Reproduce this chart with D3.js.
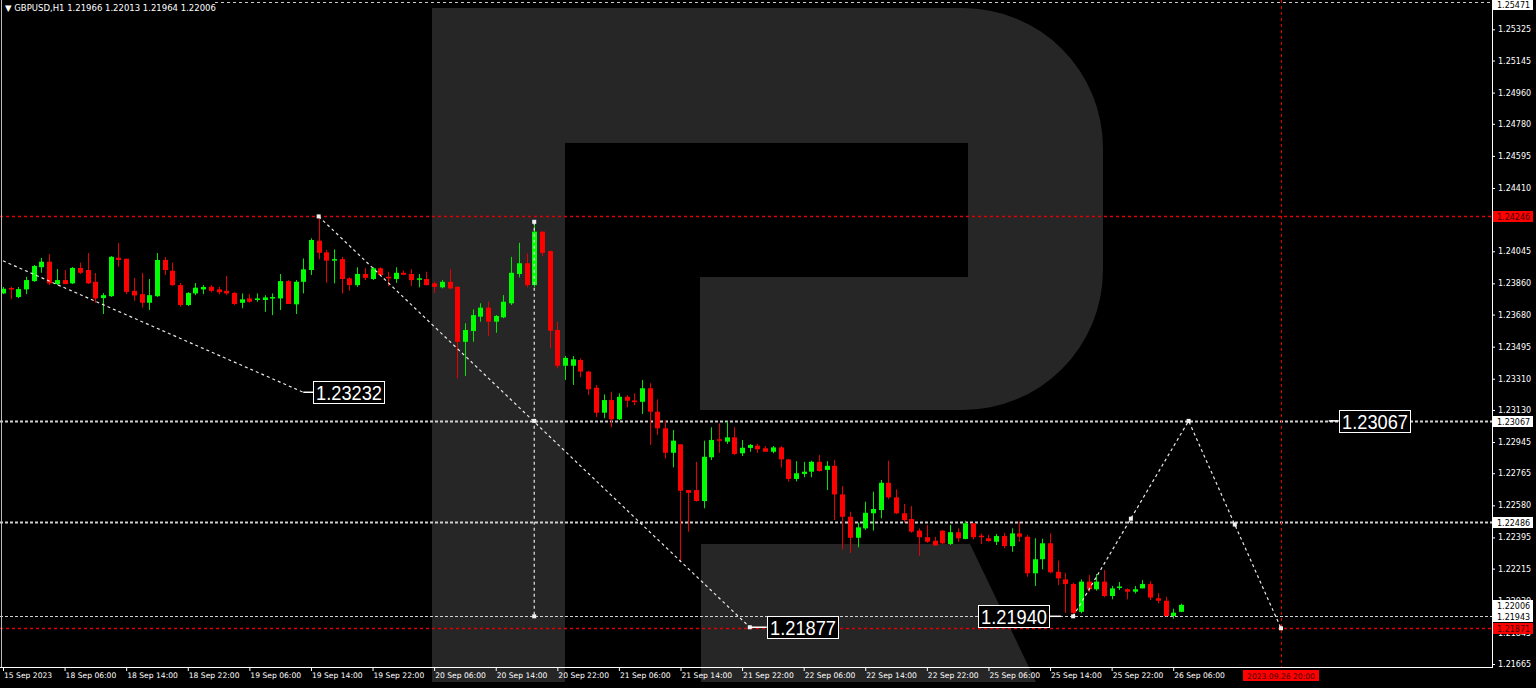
<!DOCTYPE html>
<html><head><meta charset="utf-8">
<script src="https://cdn.jsdelivr.net/npm/d3@7"></script>
<style>html,body{margin:0;padding:0;background:#000;overflow:hidden}</style>
</head><body><svg id="c" width="1536" height="688"></svg>
<script>
// ---- DATA (GBPUSD H1, from 15 Sep 22:00 to 26 Sep 07:00) ----
const opens=[1.23802,1.23833,1.23781,1.23825,1.23873,1.23953,1.23985,1.23856,1.23879,1.23860,
1.23949,1.23937,1.23869,1.23775,1.23786,1.24008,1.24002,1.23817,1.23798,1.23748,
1.23786,1.23995,1.23933,1.23850,1.23735,1.23802,1.23825,1.23840,1.23825,1.23817,
1.23805,1.23748,1.23773,1.23764,1.23764,1.23777,1.23773,1.23873,1.23739,1.23869,
1.23937,1.24106,1.24039,1.23991,1.24000,1.23889,1.23850,1.23914,1.23885,1.23947,
1.23898,1.23885,1.23921,1.23914,1.23883,1.23885,1.23860,1.23837,1.23869,1.23840,
1.23523,1.23585,1.23668,1.23720,1.23639,1.23664,1.23745,1.23914,1.23976,1.23850,
1.24158,1.24046,1.23591,1.23385,1.23385,1.23418,1.23351,1.23258,1.23114,1.23187,
1.23076,1.23206,1.23185,1.23177,1.23255,1.23120,1.23024,1.22883,1.22932,1.22668,
1.22668,1.22605,1.22857,1.22961,1.22947,1.22972,1.22880,1.22911,1.22924,1.22909,
1.22889,1.22914,1.22845,1.22732,1.22761,1.22774,1.22831,1.22784,1.22808,1.22643,
1.22514,1.22393,1.22447,1.22534,1.22553,1.22710,1.22626,1.22534,1.22501,1.22434,
1.22396,1.22376,1.22434,1.22357,1.22425,1.22386,1.22476,1.22405,1.22390,1.22370,
1.22403,1.22345,1.22418,1.22399,1.22188,1.22269,1.22361,1.22197,1.22153,1.22126,
1.21966,1.22140,1.22096,1.22140,1.22057,1.22104,1.22096,1.22082,1.22101,1.22126,
1.22044,1.22030,1.21942,1.21966];
const highs=[1.23839,1.23840,1.23839,1.23898,1.23966,1.24007,1.24029,1.23943,1.23937,1.23954,
1.23979,1.24035,1.23920,1.23804,1.24017,1.24093,1.24002,1.23891,1.23920,1.23885,
1.24035,1.24012,1.23979,1.23862,1.23809,1.23862,1.23850,1.23850,1.23840,1.23902,
1.23811,1.23802,1.23798,1.23802,1.23792,1.23802,1.23914,1.23879,1.23879,1.24004,
1.24120,1.24246,1.24052,1.24056,1.24013,1.23895,1.23953,1.23947,1.23953,1.23953,
1.23927,1.23953,1.23933,1.23941,1.23914,1.23927,1.23869,1.23879,1.23941,1.23844,
1.23630,1.23710,1.23745,1.23754,1.23677,1.23792,1.24013,1.24094,1.24033,1.24215,
1.24160,1.24050,1.23639,1.23441,1.23441,1.23428,1.23355,1.23274,1.23220,1.23235,
1.23226,1.23216,1.23226,1.23303,1.23284,1.23191,1.23072,1.23014,1.22932,1.22668,
1.22831,1.22953,1.23030,1.23053,1.23062,1.23030,1.22957,1.22934,1.22934,1.22922,
1.22922,1.22922,1.22845,1.22835,1.22831,1.22837,1.22870,1.22835,1.22841,1.22691,
1.22543,1.22480,1.22601,1.22659,1.22726,1.22837,1.22672,1.22588,1.22576,1.22447,
1.22467,1.22399,1.22438,1.22467,1.22447,1.22491,1.22476,1.22418,1.22409,1.22415,
1.22422,1.22447,1.22486,1.22409,1.22390,1.22387,1.22418,1.22261,1.22191,1.22134,
1.22153,1.22178,1.22184,1.22207,1.22115,1.22138,1.22101,1.22115,1.22149,1.22143,
1.22073,1.22053,1.21984,1.22013];
const lows=[1.23798,1.23769,1.23775,1.23798,1.23869,1.23921,1.23850,1.23850,1.23856,1.23856,
1.23914,1.23856,1.23748,1.23683,1.23782,1.23956,1.23798,1.23760,1.23720,1.23706,
1.23782,1.23908,1.23846,1.23725,1.23729,1.23792,1.23798,1.23809,1.23798,1.23792,
1.23735,1.23716,1.23748,1.23754,1.23696,1.23677,1.23706,1.23741,1.23683,1.23802,
1.23908,1.23999,1.23863,1.23860,1.23802,1.23817,1.23840,1.23879,1.23879,1.23902,
1.23844,1.23863,1.23908,1.23844,1.23837,1.23848,1.23805,1.23831,1.23825,1.23313,
1.23326,1.23523,1.23639,1.23556,1.23575,1.23659,1.23735,1.23894,1.23837,1.23840,
1.24017,1.23486,1.23370,1.23303,1.23274,1.23319,1.23216,1.23088,1.23082,1.23030,
1.23072,1.23145,1.23158,1.23107,1.22928,1.22986,1.22851,1.22799,1.22255,1.22428,
1.22601,1.22563,1.22841,1.22883,1.22934,1.22870,1.22864,1.22889,1.22883,1.22889,
1.22880,1.22799,1.22716,1.22718,1.22742,1.22742,1.22774,1.22668,1.22495,1.22326,
1.22306,1.22338,1.22438,1.22434,1.22505,1.22615,1.22530,1.22480,1.22422,1.22289,
1.22364,1.22345,1.22357,1.22351,1.22370,1.22384,1.22384,1.22357,1.22370,1.22351,
1.22332,1.22312,1.22370,1.22168,1.22115,1.22211,1.22188,1.22120,1.21960,1.21940,
1.21957,1.22082,1.22088,1.22050,1.22038,1.22092,1.22038,1.22072,1.22101,1.22034,
1.22015,1.21939,1.21926,1.21964];
const closes=[1.23829,1.23827,1.23827,1.23879,1.23960,1.23985,1.23860,1.23879,1.23856,1.23949,
1.23921,1.23860,1.23773,1.23792,1.24013,1.23995,1.23811,1.23790,1.23748,1.23792,
1.23995,1.23937,1.23850,1.23735,1.23805,1.23835,1.23839,1.23817,1.23809,1.23802,
1.23741,1.23768,1.23754,1.23773,1.23779,1.23781,1.23873,1.23741,1.23869,1.23941,
1.24110,1.24036,1.23991,1.24000,1.23885,1.23850,1.23914,1.23892,1.23947,1.23908,
1.23889,1.23921,1.23910,1.23879,1.23889,1.23850,1.23840,1.23869,1.23831,1.23523,
1.23591,1.23677,1.23720,1.23639,1.23672,1.23754,1.23921,1.23976,1.23850,1.24158,
1.24036,1.23587,1.23385,1.23430,1.23422,1.23351,1.23249,1.23114,1.23187,1.23076,
1.23206,1.23183,1.23175,1.23255,1.23120,1.23024,1.22883,1.22953,1.22664,1.22652,
1.22605,1.22860,1.22957,1.22953,1.22972,1.22876,1.22912,1.22928,1.22903,1.22889,
1.22914,1.22845,1.22732,1.22765,1.22774,1.22831,1.22778,1.22808,1.22643,1.22514,
1.22393,1.22453,1.22537,1.22559,1.22710,1.22626,1.22534,1.22495,1.22428,1.22396,
1.22370,1.22349,1.22361,1.22425,1.22390,1.22476,1.22396,1.22396,1.22374,1.22403,
1.22345,1.22418,1.22399,1.22188,1.22269,1.22361,1.22194,1.22159,1.22126,1.21960,
1.22140,1.22096,1.22140,1.22057,1.22101,1.22112,1.22082,1.22096,1.22126,1.22048,
1.22030,1.21942,1.21961,1.22006];

const timeLabels=["15 Sep 2023","18 Sep 06:00","18 Sep 14:00","18 Sep 22:00","19 Sep 06:00","19 Sep 14:00",
"19 Sep 22:00","20 Sep 06:00","20 Sep 14:00","20 Sep 22:00","21 Sep 06:00","21 Sep 14:00","21 Sep 22:00",
"22 Sep 06:00","22 Sep 14:00","22 Sep 22:00","25 Sep 06:00","25 Sep 14:00","25 Sep 22:00","26 Sep 06:00"];
const priceTicks=[1.25325,1.25145,1.24960,1.24780,1.24595,1.24410,1.24230,1.24045,1.23860,1.23680,1.23495,
1.23310,1.23130,1.22945,1.22765,1.22580,1.22395,1.22215,1.22030,1.21845,1.21665];
const whiteLevels=[1.23067,1.22486,1.21943];
const redLevels=[1.24246,1.21871];
const whiteAxisTags=[1.25471,1.23067,1.22486,1.22006,1.21943];
const redAxisTags=[1.24246,1.21871];
const trendLine=[[0,1.23990],[39,1.23232]];
const waveDown=[[41,1.24246],[97,1.21877]];
const waveVertical=[[69,1.24215],[69,1.23067],[69,1.21940]];
const forecast=[[139,1.21940],[154,1.23067],[166,1.21871]];
const forecastMid=[[146.5,1.22503],[160,1.22469]];
const callouts=[
  {i:39,p:1.23232,text:"1.23232",side:"right",gap:10},
  {i:97,p:1.21877,text:"1.21877",side:"right",gap:17},
  {i:139,p:1.21940,text:"1.21940",side:"left",gap:24},
  {i:172.2,p:1.23067,text:"1.23067",side:"right",gap:10}];
const header="GBPUSD,H1  1.21966 1.22013 1.21964 1.22006";
const cursorLabel="2023.09.26 20:00", cursorIndex=166;

// ---- CHART ----
const W=1536,H=688,plotR=1492,plotB=667;
const svg=d3.select("#c");
const x=d3.scaleLinear().domain([0,166]).range([3,1281]);
const y=d3.scaleLinear().domain([1.21665,1.25471]).range([664,4]);
const xr=i=>Math.round(x(i));

svg.append("rect").attr("width",W).attr("height",H).attr("fill","#000");

// watermark logo
const wm=svg.append("g").attr("fill","#262626");
wm.append("path").attr("d","M432,8 H963 A140,140 0 0 1 1103,148 V270 A140,140 0 0 1 963,410 H700 V277 H968 V143 H565 V682 H432 Z");
wm.append("path").attr("d","M701,544 H970 L1036,682 H701 Z");

svg.append("defs").append("clipPath").attr("id","pc").append("rect").attr("x",0).attr("y",0).attr("width",plotR).attr("height",plotB);
const g=svg.append("g").attr("clip-path","url(#pc)");

// top dashed line
g.append("line").attr("x1",215).attr("x2",plotR).attr("y1",Math.round(y(1.25471))-1.5).attr("y2",Math.round(y(1.25471))-1.5)
 .attr("stroke","#c8c8c8").attr("stroke-dasharray","3,3");

// level lines
g.selectAll(".wl").data(whiteLevels).join("line")
 .attr("x1",0).attr("x2",plotR).attr("y1",d=>Math.round(y(d))+0.5).attr("y2",d=>Math.round(y(d))+0.5)
 .attr("stroke","#d0d0d0").attr("stroke-width",(d,k)=>k<2?2:1).attr("stroke-dasharray","3,2");
g.selectAll(".rl").data(redLevels).join("line")
 .attr("x1",0).attr("x2",plotR).attr("y1",d=>Math.round(y(d))+0.5).attr("y2",d=>Math.round(y(d))+0.5)
 .attr("stroke","#e00000").attr("stroke-width",1.5).attr("stroke-dasharray","3,3");
// cursor vertical
g.append("line").attr("x1",xr(cursorIndex)+0.5).attr("x2",xr(cursorIndex)+0.5).attr("y1",0).attr("y2",plotB)
 .attr("stroke","#e00000").attr("stroke-dasharray","3,3");

// candles
const idx=d3.range(opens.length);
const cg=g.append("g");
cg.selectAll(".w").data(idx).join("line")
 .attr("x1",i=>xr(i)+0.5).attr("x2",i=>xr(i)+0.5)
 .attr("y1",i=>y(highs[i])).attr("y2",i=>y(lows[i]))
 .attr("stroke",i=>closes[i]>=opens[i]?"#00e600":"#e60000");
cg.selectAll(".b").data(idx).join("rect")
 .attr("x",i=>xr(i)-2).attr("width",5)
 .attr("y",i=>y(Math.max(opens[i],closes[i])))
 .attr("height",i=>Math.max(1.5,Math.abs(y(opens[i])-y(closes[i]))))
 .attr("fill",i=>closes[i]>=opens[i]?"#00ff00":"#ff0000");

// wave lines
const ln=d3.line().x(d=>x(d[0])).y(d=>y(d[1]));
[trendLine,waveDown,forecast,waveVertical].forEach(pts=>{
  g.append("path").attr("d",ln(pts)).attr("fill","none").attr("stroke","#e8e8e8").attr("stroke-width",1.2).attr("stroke-dasharray","3,3");
});
const markers=[waveDown[0],waveDown[1],waveVertical[0],waveVertical[1],waveVertical[2],...forecast,...forecastMid];
g.selectAll(".mk").data(markers).join("rect")
 .attr("x",d=>x(d[0])-2).attr("y",d=>y(d[1])-2).attr("width",4).attr("height",4).attr("fill","#f0f0f0");

// callouts
callouts.forEach(c=>{
  const px=x(c.i), py=y(c.p), bw=71, bh=22;
  const bx=c.side==="right"?px+c.gap:px-c.gap-bw;
  g.append("line").attr("x1",c.side==="right"?px:bx+bw).attr("x2",c.side==="right"?bx:px-12)
   .attr("y1",py).attr("y2",py).attr("stroke","#fff").attr("stroke-width",1.5);
  g.append("rect").attr("x",Math.round(bx)+0.5).attr("y",Math.round(py-bh/2)+0.5).attr("width",bw).attr("height",bh)
   .attr("fill","#000").attr("stroke","#fff").attr("stroke-width",1);
  g.append("text").attr("x",Math.round(bx)+3).attr("y",Math.round(py-bh/2)+18.5)
   .attr("fill","#fff").attr("font-family","Liberation Sans, Arial, sans-serif").attr("font-size",21)
   .attr("textLength",66).attr("lengthAdjust","spacingAndGlyphs").text(c.text);
});

// frame lines
svg.append("line").attr("x1",plotR+0.5).attr("x2",plotR+0.5).attr("y1",0).attr("y2",plotB+1).attr("stroke","#fff");
svg.append("line").attr("x1",0).attr("x2",plotR+1).attr("y1",plotB+0.5).attr("y2",plotB+0.5).attr("stroke","#fff");
svg.append("line").attr("x1",1.5).attr("x2",1.5).attr("y1",0).attr("y2",plotB).attr("stroke","#bbb");

// price axis
const yAx=svg.append("g").attr("transform",`translate(${plotR},0)`)
 .call(d3.axisRight(y).tickValues(priceTicks).tickFormat(d3.format(".5f")).tickSize(3).tickSizeOuter(0).tickPadding(3));
yAx.select(".domain").remove();
yAx.selectAll("line").attr("stroke","#fff");
yAx.selectAll("text").attr("fill","#fff").attr("font-family","DejaVu Sans, sans-serif").attr("font-size",8);

// time axis
const tIdx=timeLabels.map((d,k)=>k*8);
const xAx=svg.append("g").attr("transform",`translate(0,${plotB})`)
 .call(d3.axisBottom(x).tickValues(tIdx).tickFormat((d,k)=>timeLabels[k]).tickSize(4).tickSizeOuter(0));
xAx.select(".domain").remove();
xAx.selectAll("line").attr("stroke","#fff");
xAx.selectAll("text").attr("fill","#fff").attr("font-family","DejaVu Sans, sans-serif").attr("font-size",7.6)
 .attr("text-anchor","start").attr("dx",0.5).attr("y",5.5);

// axis tags
function tag(p,bg,fg){
  const yy=Math.round(y(p));
  const t=svg.append("g");
  t.append("rect").attr("x",plotR+1).attr("y",yy-5).attr("width",40).attr("height",11).attr("fill",bg);
  t.append("text").attr("x",plotR+5).attr("y",yy+3.5).attr("fill",fg).attr("font-family","DejaVu Sans, sans-serif").attr("font-size",8).text(d3.format(".5f")(p));
}
whiteAxisTags.forEach(p=>tag(p,"#fff","#000"));
redAxisTags.forEach(p=>tag(p,"#ff0000","#400000"));
// cursor time tag
const cx=x(cursorIndex);
svg.append("rect").attr("x",cx-38).attr("y",670).attr("width",76).attr("height",11).attr("fill","#ff0000");
svg.append("text").attr("x",cx).attr("y",679).attr("text-anchor","middle").attr("fill","#400000")
 .attr("font-family","DejaVu Sans, sans-serif").attr("font-size",7.6).text(cursorLabel);

// header
svg.append("text").attr("x",5).attr("y",11).attr("fill","#fff").attr("font-family","DejaVu Sans, sans-serif").attr("font-size",8.5)
 .text("▼ "+header);
</script></body></html>
